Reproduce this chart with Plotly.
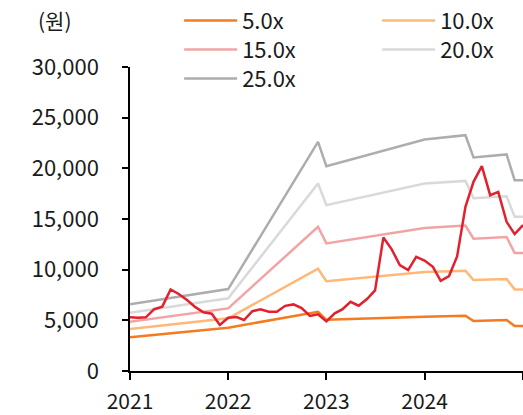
import plotly.graph_objects as go
import pandas as pd

# Month indices (months after Jan 2021) of the band-line breakpoints
band_months = [0, 12, 23, 24, 36, 41, 42, 46, 47, 48]
band_5x = [3320, 4270, 5850, 5050, 5355, 5450, 4930, 5030, 4440, 4440]
band_10x = [4140, 5195, 10090, 8870, 9760, 9890, 8970, 9080, 8055, 8055]
band_15x = [4860, 6180, 14230, 12590, 14120, 14350, 13050, 13220, 11650, 11650]
band_20x = [5750, 7170, 18500, 16370, 18500, 18760, 17060, 17250, 15210, 15210]
band_25x = [6580, 8085, 22610, 20213, 22846, 23270, 21070, 21370, 18830, 18830]

# Monthly share price, Jan 2021 .. Jan 2025
price = [5295, 5250, 5300, 6100, 6350, 8050, 7600, 7000, 6300, 5800, 5650, 4550,
         5260, 5320, 5030, 5900, 6080, 5850, 5850, 6430, 6570, 6200, 5430, 5590,
         4900, 5690, 6080, 6830, 6440, 7100, 7950, 13180, 12000, 10450, 9960, 11270,
         10900, 10280, 8900, 9370, 11300, 16200, 18670, 20210, 17350, 17680, 14720, 13510,
         14400]

band_names = ["5.0x", "10.0x", "15.0x", "20.0x", "25.0x"]
band_colors = ["#F47B20", "#FFB878", "#F2A4A4", "#D9D9D9", "#ADADAD"]
band_legends = ["legend", "legend", "legend2", "legend2", "legend3"]
price_color = "#E3202D"

start = pd.Timestamp("2021-01-01")
band_dates = [start + pd.DateOffset(months=m) for m in band_months]
price_dates = [start + pd.DateOffset(months=i) for i in range(len(price))]

fig = go.Figure()
for name, vals, col, lg in zip(band_names, [band_5x, band_10x, band_15x, band_20x, band_25x],
                               band_colors, band_legends):
    fig.add_trace(go.Scatter(x=band_dates, y=vals, mode="lines", name=name, legend=lg,
                             line=dict(color=col, width=2.5)))
fig.add_trace(go.Scatter(x=price_dates, y=price, mode="lines", name="주가",
                         showlegend=False, line=dict(color=price_color, width=2.5)))

font_family = "Noto Sans CJK KR, Noto Sans, sans-serif"
legend_common = dict(orientation="h", xanchor="left", yanchor="top", x=0.125,
                     itemwidth=53, entrywidth=130, font=dict(size=22),
                     bgcolor="rgba(0,0,0,0)")
fig.update_layout(
    width=523, height=415,
    margin=dict(l=130, r=0, t=67, b=44, autoexpand=False),
    paper_bgcolor="white", plot_bgcolor="white",
    font=dict(family=font_family, size=22, color="#1a1a1a"),
    showlegend=True,
    legend=dict(y=1.2217, **legend_common),
    legend2=dict(y=1.1263, **legend_common),
    legend3=dict(y=1.0309, **legend_common),
    xaxis=dict(type="date", range=["2021-01-01", "2025-01-01"],
               dtick="M12", tick0="2021-01-01", tickformat="%Y",
               tickfont=dict(size=21),
               showline=True, linecolor="#000", linewidth=1.5,
               ticks="outside", ticklen=7, tickcolor="#000", tickwidth=1.5,
               ticklabelstandoff=4,
               showgrid=False, zeroline=False),
    yaxis=dict(range=[0, 30000], dtick=5000, tickformat=",",
               tickfont=dict(size=22),
               showline=True, linecolor="#000", linewidth=1.5,
               ticks="outside", ticklen=6, tickcolor="#000", tickwidth=1.5,
               ticklabelstandoff=19,
               showgrid=False, zeroline=False),
    annotations=[dict(text="(원)", xref="paper", yref="paper", x=-0.191, y=1.155,
                      xanchor="center", yanchor="middle", showarrow=False,
                      font=dict(size=21, family=font_family))],
)

fig.write_html("out.html", config={"displayModeBar": False},
               post_script="document.body.style.margin='0';document.body.style.overflow='hidden';")
